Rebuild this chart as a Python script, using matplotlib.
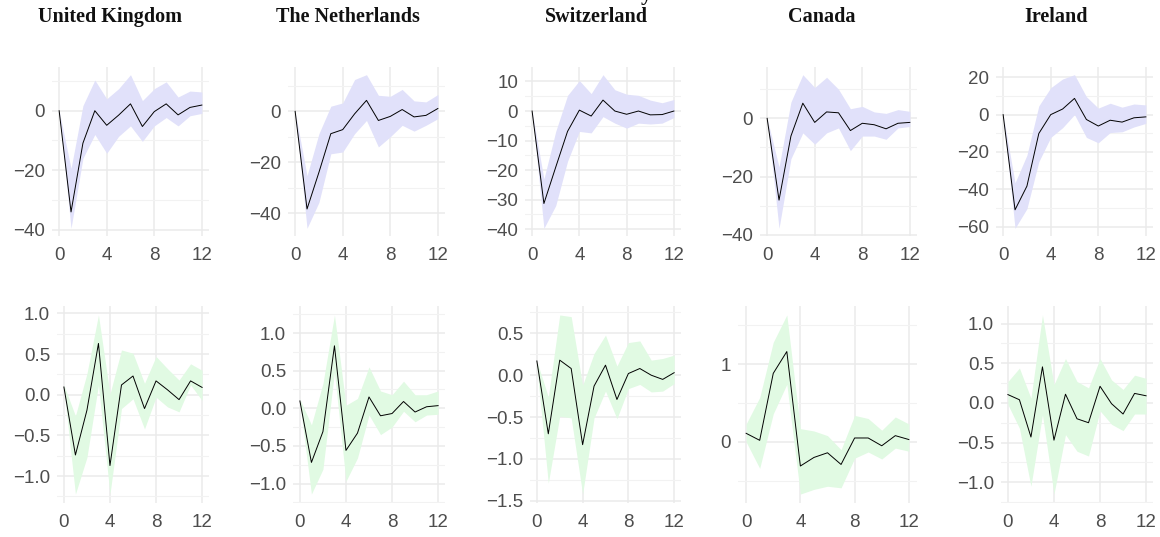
import numpy as np
import matplotlib
matplotlib.use("Agg")
import matplotlib.pyplot as plt
from matplotlib.ticker import MultipleLocator, FuncFormatter

countries = ["United Kingdom", "The Netherlands", "Switzerland", "Canada", "Ireland"]
horizon = np.arange(13)

# response of the first variable (top row)
top_mid = {
    "United Kingdom": [0, -34, -10.9, 0, -4.9, -1.5, 2.3, -5.3, -0.3, 2.3, -1.4, 1.1, 1.9],
    "The Netherlands": [0, -38.4, -24, -8.8, -7.2, -1, 4.3, -3.6, -2, 0.7, -2.2, -1.6, 1.1],
    "Switzerland": [0, -31.3, -19, -6.9, 0.3, -1.7, 3.7, 0, -1.1, 0, -1.3, -1.2, 0],
    "Canada": [0, -28.1, -6.1, 5.2, -1.4, 2.2, 1.9, -4.2, -1.7, -2.2, -3.6, -1.7, -1.4],
    "Ireland": [0, -51, -38.3, -10.1, 0, 3, 8.7, -2.6, -6.1, -3, -4, -1.7, -1.2],
}
top_hi = {
    "United Kingdom": [0, -19.4, 1.7, 10.3, 4, 7.4, 12.1, 3.4, 7.4, 9.7, 4.6, 6.6, 6.3],
    "The Netherlands": [0, -25.3, -8.8, 2, 3.3, 12.5, 14.4, 6.3, 5.9, 8.6, 4.1, 3.7, 6.6],
    "Switzerland": [0, -23, -6.9, 5.3, 10.3, 5.9, 12.3, 7.2, 5.7, 5.3, 3.7, 2.8, 3.9],
    "Canada": [0, -16.7, 5.6, 15, 10.6, 14.1, 10, 3.3, 4.1, 2.2, 1.7, 3, 2.4],
    "Ireland": [0, -36.5, -21.7, 4.7, 14.4, 19.1, 21.4, 9.6, 3.5, 6.1, 4, 5.7, 5.2],
}
top_lo = {
    "United Kingdom": [0, -39.5, -16, -8, -14.3, -8.6, -5.1, -10.3, -5.1, -2.3, -5.1, -1.7, -0.9],
    "The Netherlands": [0, -46, -35.8, -16.7, -16, -8.8, -3.6, -14, -10, -5.5, -7.8, -5.5, -2.9],
    "Switzerland": [0, -39.7, -32, -17, -6.9, -7.4, -1.9, -4.1, -5.8, -4.1, -4.4, -4.1, -2.2],
    "Canada": [0, -37.8, -13.9, -5, -8.9, -5, -3.3, -11.1, -6.1, -6.1, -7.2, -3.3, -2.8],
    "Ireland": [0, -60.9, -50.4, -25.2, -12.2, -7, 0, -12.2, -15.1, -9.6, -9.2, -6.6, -4.7],
}

# response of the second variable (bottom row)
bot_mid = {
    "United Kingdom": [0.095, -0.74, -0.19, 0.63, -0.87, 0.12, 0.23, -0.17, 0.17, 0.06, -0.06, 0.17, 0.09],
    "The Netherlands": [0.097, -0.72, -0.31, 0.83, -0.56, -0.33, 0.15, -0.10, -0.07, 0.09, -0.05, 0.02, 0.035],
    "Switzerland": [0.17, -0.70, 0.18, 0.08, -0.83, -0.13, 0.12, -0.29, 0.02, 0.08, 0, -0.05, 0.03],
    "Canada": [0.11, 0.02, 0.88, 1.16, -0.31, -0.2, -0.14, -0.29, 0.05, 0.05, -0.05, 0.08, 0.03],
    "Ireland": [0.105, 0.04, -0.43, 0.455, -0.47, 0.11, -0.2, -0.25, 0.21, -0.01, -0.14, 0.12, 0.09],
}
bot_hi = {
    "United Kingdom": [0.12, -0.26, 0.26, 0.98, 0.01, 0.55, 0.51, 0.14, 0.47, 0.32, 0.18, 0.38, 0.3],
    "The Netherlands": [0.12, -0.22, 0.33, 1.24, 0.04, 0.13, 0.55, 0.23, 0.18, 0.36, 0.18, 0.18, 0.23],
    "Switzerland": [0.17, -0.26, 0.72, 0.70, -0.12, 0.26, 0.48, 0.11, 0.39, 0.41, 0.18, 0.2, 0.24],
    "Canada": [0.23, 0.57, 1.28, 1.63, 0.17, 0.14, 0.08, -0.1, 0.34, 0.3, 0.15, 0.32, 0.23],
    "Ireland": [0.27, 0.44, 0.06, 1.11, 0.23, 0.56, 0.27, 0.19, 0.56, 0.29, 0.17, 0.35, 0.31],
}
bot_lo = {
    "United Kingdom": [0.07, -1.22, -0.77, 0.12, -1.22, -0.17, -0.05, -0.42, -0.03, -0.15, -0.21, 0.12, -0.07],
    "The Netherlands": [0.07, -1.14, -0.81, 0.48, -0.97, -0.66, -0.09, -0.35, -0.25, -0.04, -0.18, -0.09, -0.08],
    "Switzerland": [0.1, -1.29, -0.49, -0.51, -1.42, -0.51, -0.19, -0.52, -0.16, -0.11, -0.2, -0.19, -0.1],
    "Canada": [0.0, -0.34, 0.36, 0.74, -0.67, -0.61, -0.57, -0.59, -0.21, -0.13, -0.22, -0.08, -0.12],
    "Ireland": [-0.02, -0.32, -1.05, -0.15, -1.15, -0.4, -0.61, -0.67, -0.1, -0.27, -0.35, -0.14, -0.14],
}

top_step = {"United Kingdom": 20, "The Netherlands": 20, "Switzerland": 10, "Canada": 20, "Ireland": 20}
bot_step = {"United Kingdom": 0.5, "The Netherlands": 0.5, "Switzerland": 0.5, "Canada": 1, "Ireland": 0.5}

W, H = 1160, 537
fig = plt.figure(figsize=(W / 100, H / 100), dpi=100)
fig.patch.set_facecolor("white")

grid_col = "#EBEBEB"
text_col = "#4D4D4D"
right_edges = [209, 445, 681, 917, 1153]
title_x = [110, 348, 596, 822, 1056]
top_left = [52, 288, 525, 760, 996]
bot_left = [57, 293, 530, 738, 1001]


def fmt_int(v, pos):
    return f"{v:.0f}".replace("-", "\u2212")


def fmt_one(v, pos):
    s = f"{v:.1f}"
    if s == "-0.0":
        s = "0.0"
    return s.replace("-", "\u2212")


def panel(left, right, top, bottom, mid, lo, hi, step, fill, fmt):
    ax = fig.add_axes([left / W, 1 - bottom / H, (right - left) / W, (bottom - top) / H])
    ax.fill_between(horizon, lo, hi, color=fill, lw=0, zorder=2)
    ax.plot(horizon, mid, color="black", lw=0.7, zorder=3)
    ax.set_xlim(-0.6, 12.6)
    ymin, ymax = min(lo), max(hi)
    pad = 0.05 * (ymax - ymin)
    ax.set_ylim(ymin - pad, ymax + pad)
    ax.xaxis.set_major_locator(MultipleLocator(4))
    ax.yaxis.set_major_locator(MultipleLocator(step))
    ax.yaxis.set_minor_locator(MultipleLocator(step / 2))
    ax.yaxis.set_major_formatter(FuncFormatter(fmt))
    ax.grid(which="major", color=grid_col, lw=1.1, zorder=0)
    ax.grid(which="minor", axis="y", color="#F2F2F2", lw=0.8, zorder=0)
    ax.set_axisbelow(True)
    for s in ax.spines.values():
        s.set_visible(False)
    ax.tick_params(which="both", length=0, labelsize=13.5, labelcolor=text_col)
    ax.tick_params(axis="y", pad=5)
    ax.tick_params(axis="x", pad=8)
    for lab in ax.get_xticklabels() + ax.get_yticklabels():
        lab.set_fontfamily("Liberation Sans")
    return ax


for i, c in enumerate(countries):
    panel(top_left[i], right_edges[i], 67, 236, top_mid[c], top_lo[c], top_hi[c],
          top_step[c], "#E1E1FA", fmt_int)
    panel(bot_left[i], right_edges[i], 306, 503, bot_mid[c], bot_lo[c], bot_hi[c],
          bot_step[c], "#E1FAE3", fmt_int if bot_step[c] >= 1 else fmt_one)
    fig.text(title_x[i] / W, 1 - 17 / H, c, ha="center", va="center",
             fontsize=14.5, fontweight="bold", family="Liberation Serif", color="#111111")

# overall heading sits above the top edge; only its descender shows
fig.text(646 / W, 1.0, "y", ha="center", va="baseline", fontsize=16,
         fontweight="bold", family="Liberation Serif", color="#111111")

fig.savefig("out.png", dpi=100, facecolor="white")
